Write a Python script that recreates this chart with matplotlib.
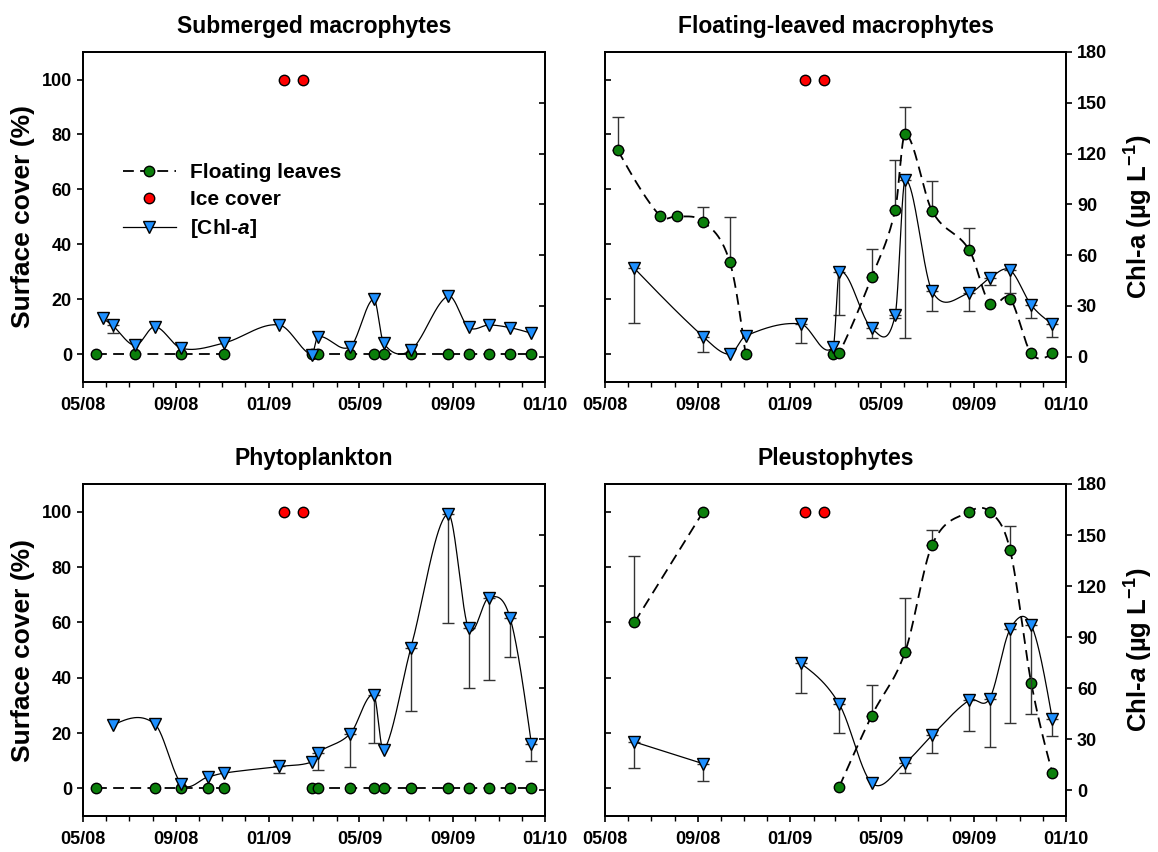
import numpy as np
import matplotlib
matplotlib.use('Agg')
import matplotlib.pyplot as plt
import matplotlib.dates as mdates
from matplotlib.lines import Line2D

plt.rcParams['font.family'] = ['Liberation Sans', 'DejaVu Sans']
plt.rcParams['font.weight'] = 'bold'
plt.rcParams['axes.labelweight'] = 'bold'
plt.rcParams['axes.titleweight'] = 'bold'
plt.rcParams['mathtext.fontset'] = 'custom'
plt.rcParams['mathtext.rm'] = 'Liberation Sans:bold'
plt.rcParams['mathtext.it'] = 'Liberation Sans:bold:italic'
plt.rcParams['mathtext.bf'] = 'Liberation Sans:bold'

GREEN = '#0b7f0b'
BLUE = '#1e90ff'
RED = '#ff0000'

# sampling dates
d1, d2, d3, d4 = '2008-05-18', '2008-05-27', '2008-06-09', '2008-07-09'
d5, d6, d7, d8 = '2008-08-04', '2008-09-08', '2008-10-13', '2008-11-03'
d9, d10, d11, d12 = '2009-01-15', '2009-02-27', '2009-03-07', '2009-04-19'
d13, d14, d15, d16 = '2009-05-20', '2009-06-02', '2009-07-08', '2009-08-26'
d17, d18, d19, d20 = '2009-09-22', '2009-10-19', '2009-11-16', '2009-12-14'

ice_dates = ['2009-01-21', '2009-02-15']
ice_cover = [100, 100]

# Submerged macrophytes
sub_fl_dates = [d1, d4, d6, d8, d10, d11, d12, d13, d14, d15, d16, d17, d18, d19, d20]
sub_fl = [0] * 15
sub_fl_err = [0] * 15
sub_chl_dates = [d2, d3, d4, d5, d6, d8, d9, d10, d11, d12, d13, d14, d15, d16, d17, d18, d19, d20]
sub_chl = [22.6, 18.4, 6.6, 17.7, 4.9, 8.0, 18.7, 1.0, 11.8, 5.9, 34.0, 7.9, 3.9, 35.8, 17.3, 18.7, 17.1, 13.8]
sub_chl_err = [0, 4.2, 0, 0, 0, 0, 0, 0, 0, 0, 0, 0, 0, 0, 0, 0, 0, 0]

# Floating-leaved macrophytes
flo_fl_dates = [d1, '2008-07-13', d5, d6, d7, d8, d10, d11, d12, d13, d14, d15, d16, d17, d18, d19, d20]
flo_fl = [74.2, 50.3, 50.3, 48.3, 33.8, 0.2, 0.2, 0.6, 28.2, 52.5, 80.2, 52.1, 38.0, 18.5, 20.3, 0.4, 0.4]
flo_fl_err = [12.3, 0, 0, 5.4, 16.3, 0, 0, 0, 10.0, 18.4, 9.9, 11.0, 8.1, 0, 0, 0, 0]
flo_chl_dates = [d3, d6, d7, d8, d9, d10, d11, d12, d13, d14, d15, d16, d17, d18, d19, d20]
flo_chl = [52.1, 11.8, 1.4, 12.2, 19.3, 5.9, 50.1, 16.7, 24.6, 104.1, 38.5, 37.5, 46.4, 51.1, 30.5, 19.3]
flo_chl_err = [32.5, 8.9, 0, 0, 11.4, 0, 25.5, 5.9, 2.0, 92.9, 11.5, 10.6, 4.0, 13.6, 7.7, 7.9]

# Phytoplankton
phy_fl_dates = [d1, d5, d6, d7, d8, d10, d11, d12, d13, d14, d15, d16, d17, d18, d19, d20]
phy_fl = [0] * 16
phy_fl_err = [0] * 16
phy_chl_dates = [d3, d5, d6, d7, d8, d9, d10, d11, d12, d13, d14, d15, d16, d17, d18, d19, d20]
phy_chl = [38.3, 38.9, 3.9, 7.9, 10.2, 14.1, 16.7, 22.2, 33.4, 56.0, 23.6, 83.9, 162.5, 95.3, 113.3, 101.2, 27.5]
phy_chl_err = [0, 0, 0, 0, 0, 3.9, 0, 10.4, 19.6, 28.1, 0, 37.3, 63.9, 35.0, 48.5, 22.6, 10.4]

# Pleustophytes
pls_fl_dates = [d3, d6, d11, d12, d14, d15, d16, d17, d18, d19, d20]
pls_fl = [60.0, 100.0, 0.6, 26.3, 49.2, 88.1, 100.0, 100.0, 86.2, 38.1, 5.4]
pls_fl_err = [24.1, 0, 0, 11.1, 19.5, 5.3, 0, 0, 8.7, 0, 0]
pls_chl_dates = [d3, d6, d9, d11, d12, d14, d15, d16, d17, d18, d19, d20]
pls_chl = [28.5, 15.7, 74.7, 50.7, 4.3, 16.1, 32.5, 53.0, 54.0, 94.7, 97.2, 41.7]
pls_chl_err = [15.3, 10.2, 17.7, 16.9, 0, 5.9, 10.5, 18.0, 28.5, 55.0, 52.0, 9.9]


def to_num(dates):
    return mdates.date2num(np.array(dates, dtype='datetime64[D]'))


def smooth_curve(x, y, n=40):
    # cubic Hermite through the points with finite-difference slopes,
    # free (zero curvature) ends
    x = np.asarray(x, float)
    y = np.asarray(y, float)
    k = len(x)
    if k < 3:
        return x, y
    m = np.empty(k)
    m[1:-1] = (y[2:] - y[:-2]) / (x[2:] - x[:-2])
    s0 = (y[1] - y[0]) / (x[1] - x[0])
    s1 = (y[-1] - y[-2]) / (x[-1] - x[-2])
    m[0] = (3 * s0 - m[1]) / 2
    m[-1] = (3 * s1 - m[-2]) / 2
    xs, ys = [], []
    for i in range(k - 1):
        h = x[i + 1] - x[i]
        t = np.linspace(0, 1, n)
        h00 = 2 * t ** 3 - 3 * t ** 2 + 1
        h10 = t ** 3 - 2 * t ** 2 + t
        h01 = -2 * t ** 3 + 3 * t ** 2
        h11 = t ** 3 - t ** 2
        xs.append(x[i] + t * h)
        ys.append(h00 * y[i] + h10 * h * m[i] + h01 * y[i + 1] + h11 * h * m[i + 1])
    return np.concatenate(xs), np.concatenate(ys)


def draw_series(ax, dates, vals, err, marker, color, ls, lw, err_up, ms):
    x = to_num(dates)
    vals = np.asarray(vals, float)
    err = np.asarray(err, float)
    # no line across the long winter gaps
    breaks = np.where(np.diff(x) > 100)[0] + 1
    for seg in np.split(np.arange(len(x)), breaks):
        sx, sy = smooth_curve(x[seg], vals[seg])
        ax.plot(sx, sy, color='black', ls=ls, lw=lw, zorder=2)
    m = err > 0
    if m.any():
        if err_up:
            yerr = [np.zeros(m.sum()), err[m]]
        else:
            yerr = [err[m], np.zeros(m.sum())]
        ax.errorbar(x[m], vals[m], yerr=yerr, fmt='none', ecolor='#333333',
                    elinewidth=1.0, capsize=4.3, capthick=1.0, zorder=1)
    ax.plot(x, vals, ls='none', marker=marker, ms=ms, mfc=color, mec='black',
            mew=1.0, zorder=3)


def draw_panel(ax, title, fl_dates, fl, fl_err, chl_dates, chl, chl_err, left_side, chl_label=None):
    ax2 = ax.twinx()
    draw_series(ax, fl_dates, fl, fl_err, 'o', GREEN, (0, (6, 3.5)), 1.3, True, 7.5)
    ax.plot(to_num(ice_dates), ice_cover, ls='none', marker='o', ms=7.5,
            mfc=RED, mec='black', mew=1.0, zorder=3)
    draw_series(ax2, chl_dates, chl, chl_err, 'v', BLUE, '-', 0.9, False, 8.5)

    ax.set_xlim(to_num(['2008-05-01'])[0], to_num(['2010-01-01'])[0])
    ax.set_ylim(-10, 110)
    ax.set_yticks(range(0, 101, 20))
    ax2.set_ylim(-15, 180)
    ax2.set_yticks(range(0, 181, 30))
    ax.xaxis.set_major_locator(mdates.MonthLocator(bymonth=(1, 5, 9)))
    ax.xaxis.set_major_formatter(mdates.DateFormatter('%m/%y'))
    ax.xaxis.set_minor_locator(mdates.MonthLocator())

    for a in (ax, ax2):
        for sp in a.spines.values():
            sp.set_linewidth(1.3)
    ax.tick_params(axis='x', which='major', direction='out', length=4.5, width=1.2,
                   labelsize=13, pad=6)
    ax.tick_params(axis='x', which='minor', direction='out', length=3.5, width=1.0)
    if left_side:
        ax.tick_params(axis='y', direction='out', length=4.5, width=1.2, labelsize=13)
        ax2.tick_params(axis='y', direction='in', length=4.5, width=1.2, labelright=False)
        ax.set_ylabel('Surface cover (%)', fontsize=19, labelpad=5)
    else:
        ax.tick_params(axis='y', direction='in', length=4.5, width=1.2, labelleft=False)
        ax2.tick_params(axis='y', direction='out', length=4.5, width=1.2, labelsize=13)
        ax2.set_ylabel(chl_label, fontsize=18.5, labelpad=11)
    ax.set_title(title, fontsize=16.5, pad=14)
    return ax2


fig = plt.figure(figsize=(11.58, 8.52), dpi=100)
W, H = 1158, 852
def axes_at(left, top, right, bottom):
    return fig.add_axes([left / W, 1 - bottom / H, (right - left) / W, (bottom - top) / H])

ax_tl = axes_at(83, 52, 545, 382)
ax_tr = axes_at(605, 52, 1066, 382)
ax_bl = axes_at(83, 484, 545, 816)
ax_br = axes_at(605, 484, 1066, 816)

tl2 = draw_panel(ax_tl, 'Submerged macrophytes', sub_fl_dates, sub_fl, sub_fl_err,
                 sub_chl_dates, sub_chl, sub_chl_err, True)
draw_panel(ax_tr, 'Floating-leaved macrophytes', flo_fl_dates, flo_fl, flo_fl_err,
           flo_chl_dates, flo_chl, flo_chl_err, False,
           r'Chl-a (µg L$^{\mathbf{-1}}$)')
draw_panel(ax_bl, 'Phytoplankton', phy_fl_dates, phy_fl, phy_fl_err,
           phy_chl_dates, phy_chl, phy_chl_err, True)
draw_panel(ax_br, 'Pleustophytes', pls_fl_dates, pls_fl, pls_fl_err,
           pls_chl_dates, pls_chl, pls_chl_err, False,
           r'Chl-$a$ (µg L$^{\mathbf{-1}}$)')

handles = [
    Line2D([], [], color='black', ls=(0, (6, 3.5)), lw=1.3, marker='o', ms=7.5,
           mfc=GREEN, mec='black'),
    Line2D([], [], ls='none', marker='o', ms=7.5, mfc=RED, mec='black'),
    Line2D([], [], color='black', ls='-', lw=0.9, marker='v', ms=8.5,
           mfc=BLUE, mec='black'),
]
labels = ['Floating leaves', 'Ice cover', '[Chl-$a$]']
tl2.legend(handles, labels, loc='upper left', bbox_to_anchor=(0.065, 0.695),
           frameon=False, fontsize=15, handlelength=2.5, handletextpad=0.7,
           labelspacing=0.38, borderpad=0)

fig.savefig('out.png', dpi=100)
